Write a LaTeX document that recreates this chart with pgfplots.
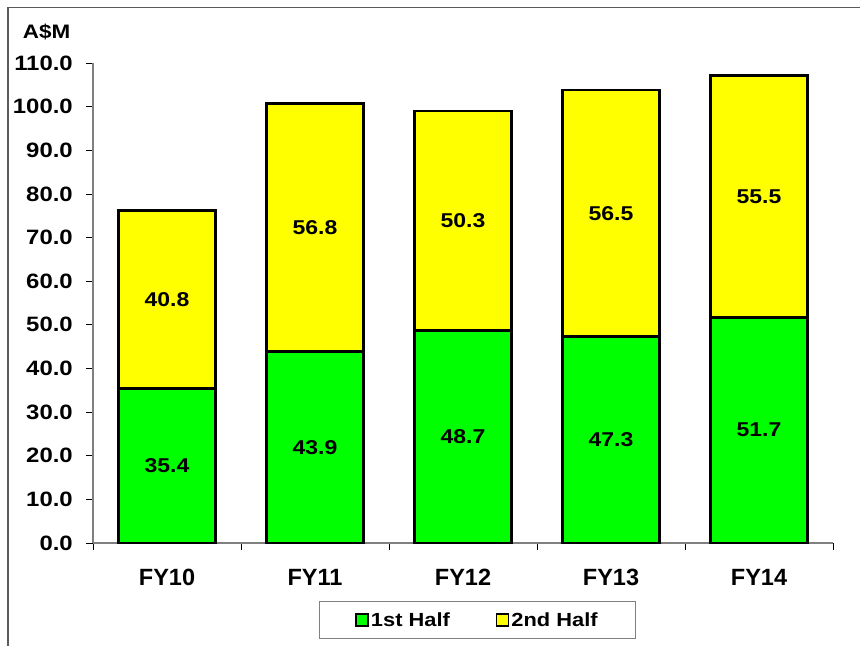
\documentclass[border=0pt]{standalone}
\usepackage{pgfplots}
\pgfplotsset{compat=1.18}
\usepackage{fontspec}
\setmainfont{Liberation Sans}[FakeStretch=1.15]
\newfontfamily\xfont{Liberation Sans}
\definecolor{barGreen}{HTML}{00FF00}
\definecolor{barYellow}{HTML}{FFFF00}
\definecolor{axGray}{HTML}{808080}
\begin{document}
\begin{tikzpicture}
\path[use as bounding box] (0,0) rectangle (860bp,646bp);
\draw[axGray!70!black, line width=1.2bp] (8bp,0bp) -- (8bp,638.7bp) -- (860bp,638.7bp);
\node[anchor=base west, inner sep=0pt, font=\fontsize{19.5bp}{22bp}\selectfont\bfseries] at (22.7bp,607bp) {A\$M};
\begin{axis}[
  at={(93bp,103bp)}, anchor=south west,
  scale only axis, width=740bp, height=480bp,
  xmin=-0.5, xmax=4.5, ymin=0, ymax=110,
  ybar stacked, bar width=97bp,
  axis x line*=bottom, axis y line*=left,
  axis line style={axGray, line width=1.2bp},
  ytick={0,10,...,110},
  tick align=outside, major tick length=7bp, minor tick length=7bp,
  tick style={black, line width=0.8bp},
  xtick={0,1,2,3,4},
  xticklabels={FY10,FY11,FY12,FY13,FY14},
  major x tick style={draw=none},
  minor xtick={-0.5,0.5,1.5,2.5,3.5,4.5},
  /pgf/number format/assume math mode=true,
  yticklabel={\pgfmathprintnumber[fixed,fixed zerofill,precision=1]{\tick}},
  yticklabel style={font=\fontsize{20.8bp}{22bp}\selectfont\bfseries, inner sep=0pt, anchor=east, xshift=-13bp},
  xticklabel style={font=\xfont\fontsize{23.5bp}{26bp}\selectfont\bfseries, inner sep=0pt, anchor=north, yshift=-18.7bp},
  legend columns=2,
  legend style={at={(0.5196,-0.1604)}, anchor=center, draw=axGray, line width=1bp,
    font=\fontsize{19bp}{22bp}\selectfont\bfseries, inner xsep=36bp, inner ysep=9bp,
    /tikz/every even column/.append style={column sep=44bp}},
  legend image code/.code={\draw[#1, line width=1.6bp] (-3bp,-6bp) rectangle (9bp,6bp);},
  clip=false,
]
\addplot[fill=barGreen, draw=black, line width=2.6bp] coordinates {(0,35.4) (1,43.9) (2,48.7) (3,47.3) (4,51.7)};
\addplot[fill=barYellow, draw=black, line width=2.6bp] coordinates {(0,40.8) (1,56.8) (2,50.3) (3,56.5) (4,55.5)};
\legend{1st Half, 2nd Half}
\end{axis}
\begin{axis}[
  at={(93bp,103bp)}, anchor=south west,
  scale only axis, width=740bp, height=480bp,
  xmin=-0.5, xmax=4.5, ymin=0, ymax=110,
  hide axis, clip=false,
]
\addplot[draw=none, mark=none, nodes near coords, point meta=explicit symbolic,
  every node near coord/.append style={anchor=center, font=\fontsize{20bp}{22bp}\selectfont\bfseries}]
  coordinates {(0,17.7)[35.4] (1,21.95)[43.9] (2,24.35)[48.7] (3,23.65)[47.3] (4,25.85)[51.7]
               (0,55.8)[40.8] (1,72.3)[56.8] (2,73.85)[50.3] (3,75.55)[56.5] (4,79.45)[55.5]};
\end{axis}
\end{tikzpicture}
\end{document}
